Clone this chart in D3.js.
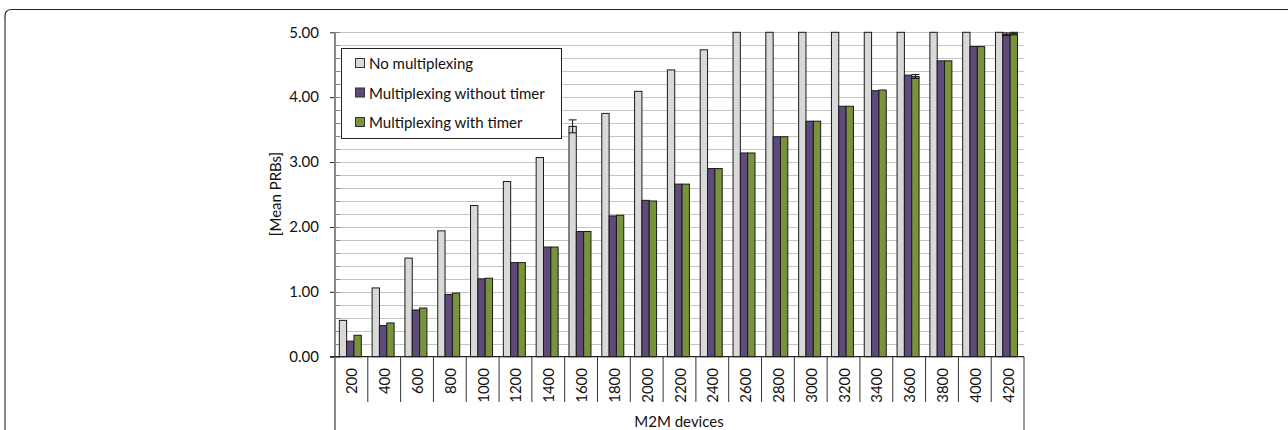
<!DOCTYPE html>
<html><head><meta charset="utf-8">
<script src="https://cdn.jsdelivr.net/npm/d3@7"></script>
<style>body{margin:0;background:#fff}svg{display:block}text{font-family:Lato,"Open Sans",sans-serif;fill:#111}</style>
</head><body><svg id="c" width="1288" height="430"></svg>
<script>
const categories = ["200","400","600","800","1000","1200","1400","1600","1800","2000","2200","2400","2600","2800","3000","3200","3400","3600","3800","4000","4200"];
const seriesNames = ["No multiplexing","Multiplexing without timer","Multiplexing with timer"];
const noMux      = [0.56,1.06,1.52,1.94,2.33,2.70,3.07,3.55,3.75,4.09,4.42,4.73,5.00,5.00,5.00,5.00,5.00,5.00,5.00,5.00,5.00];
const muxNoTimer = [0.24,0.48,0.72,0.96,1.20,1.45,1.69,1.93,2.17,2.41,2.66,2.90,3.14,3.39,3.63,3.86,4.10,4.34,4.56,4.78,4.97];
const muxTimer   = [0.33,0.52,0.75,0.98,1.21,1.45,1.69,1.93,2.18,2.40,2.66,2.90,3.14,3.39,3.63,3.86,4.11,4.32,4.56,4.78,4.98];
const errNoMux      = [0,0,0,0,0,0,0,0.10,0,0,0,0,0,0,0,0,0,0,0,0,0];
const errMuxNoTimer = [0,0,0,0,0,0,0,0,0,0,0,0,0,0,0,0,0,0,0,0,0.02];
const errMuxTimer   = [0,0,0,0,0,0,0,0,0,0,0,0,0,0,0,0,0,0.03,0,0,0.02];
const yTicks = [0,1,2,3,4,5];
const yTickLabels = ["0.00","1.00","2.00","3.00","4.00","5.00"];
const colors = ["#d9d9d9","#604a7b","#77933c"];

const svg = d3.select("#c");
const L = 335, R = 1024, T = 32.3, B = 356.7;
const FS = 15;

// frame
svg.append("path").attr("d", `M5,440 L5,16 Q5,9.5 12,9.5 L1290,9.5`)
  .attr("fill","none").attr("stroke","#222").attr("stroke-width",1.2);
svg.append("line").attr("x1",5).attr("x2",5).attr("y1",18).attr("y2",440).attr("stroke","#888").attr("stroke-width",2);

const x0 = d3.scaleBand().domain(categories).range([L,R]).padding(0);
const x1 = d3.scaleBand().domain([0,1,2]).range([4.3,26.3]).padding(0);
const y = d3.scaleLinear().domain([0,5]).range([B,T]);

// gridlines every 0.2
const minor = d3.range(0,26).map(i=>i*0.2);
svg.append("g").selectAll("line").data(minor.filter(v=>v>0)).join("line")
  .attr("x1",L).attr("x2",R).attr("y1",d=>Math.round(y(d))+0.5).attr("y2",d=>Math.round(y(d))+0.5)
  .attr("stroke","#c4c4c4").attr("stroke-width",1);
// minor ticks inside
svg.append("g").selectAll("line").data(minor).join("line")
  .attr("x1",L).attr("x2",L+5).attr("y1",d=>Math.round(y(d))+0.5).attr("y2",d=>Math.round(y(d))+0.5)
  .attr("stroke","#888");

// y axis
const yAxis = d3.axisLeft(y).tickValues(yTicks).tickFormat((d,i)=>yTickLabels[i]).tickSize(5).tickPadding(11);
const gy = svg.append("g").attr("transform",`translate(${L},0)`).call(yAxis);
gy.select(".domain").remove();
gy.selectAll(".tick line").attr("stroke","#222");
gy.selectAll(".tick text").attr("font-size",FS).attr("font-family","Lato").attr("fill","#111");
svg.append("line").attr("x1",L).attr("x2",L).attr("y1",T).attr("y2",430).attr("stroke","#888").attr("stroke-width",2);

// bars
const series = [noMux, muxNoTimer, muxTimer];
const errs = [errNoMux, errMuxNoTimer, errMuxTimer];
const g = svg.append("g");
categories.forEach((c,ci)=>{
  series.forEach((s,si)=>{
    const v = s[ci];
    g.append("rect").attr("x",x0(c)+x1(si)).attr("y",y(v)).attr("width",x1.bandwidth()).attr("height",y(0)-y(v))
      .attr("fill",colors[si]).attr("stroke","#1a1a1a").attr("stroke-width",1);
    const e = errs[si][ci];
    if(e>0){
      const cx = x0(c)+x1(si)+x1.bandwidth()/2;
      const eg = g.append("g").attr("stroke","#111").attr("stroke-width",1);
      eg.append("line").attr("x1",cx).attr("x2",cx).attr("y1",y(v+e)).attr("y2",y(v-e));
      eg.append("line").attr("x1",cx-4).attr("x2",cx+4).attr("y1",y(v+e)).attr("y2",y(v+e));
      eg.append("line").attr("x1",cx-4).attr("x2",cx+4).attr("y1",y(v-e)).attr("y2",y(v-e));
    }
  });
});

// x axis line
svg.append("line").attr("x1",L-5).attr("x2",R).attr("y1",B).attr("y2",B).attr("stroke","#222").attr("stroke-width",1.2);
// category separators
svg.append("g").selectAll("line").data(categories.slice(1)).join("line")
  .attr("x1",d=>x0(d)).attr("x2",d=>x0(d)).attr("y1",B).attr("y2",402).attr("stroke","#333");
svg.append("line").attr("x1",R).attr("x2",R).attr("y1",B).attr("y2",430).attr("stroke","#333");
// category labels
svg.append("g").selectAll("text").data(categories).join("text")
  .attr("transform",d=>`translate(${x0(d)+x0.bandwidth()/2},368) rotate(-90)`)
  .attr("text-anchor","end").attr("dominant-baseline","central").attr("font-size",FS).text(d=>d);

// axis titles
svg.append("text").attr("x",679).attr("y",427).attr("text-anchor","middle").attr("font-size",FS).text("M2M devices");
svg.append("text").attr("transform",`translate(275,194) rotate(-90)`).attr("text-anchor","middle")
  .attr("dominant-baseline","central").attr("font-size",FS).text("[Mean PRBs]");

// legend
const lg = svg.append("g");
lg.append("rect").attr("x",341.5).attr("y",48.5).attr("width",220).attr("height",90).attr("fill","#fff").attr("stroke","#222");
seriesNames.forEach((n,i)=>{
  const cy = 63 + i*29.5;
  lg.append("rect").attr("x",355.5).attr("y",cy-4.5).attr("width",9).attr("height",9).attr("fill",colors[i]).attr("stroke","#333");
  lg.append("text").attr("x",369).attr("y",cy).attr("dominant-baseline","central").attr("font-size",FS).text(n);
});
</script></body></html>
